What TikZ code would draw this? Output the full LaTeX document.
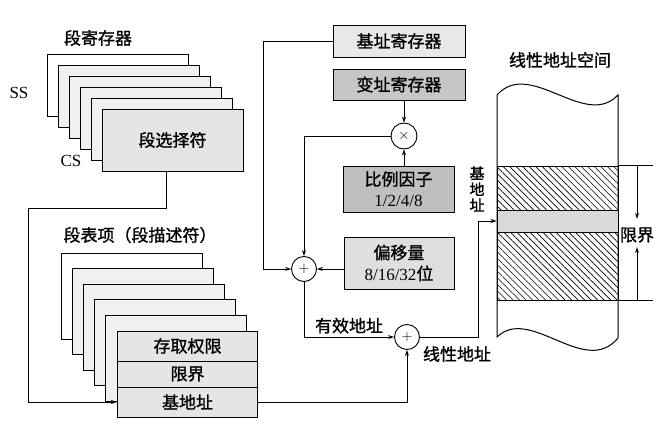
\documentclass[tikz,border=0pt]{standalone}
\usepackage{fontspec}
\setmainfont{Liberation Serif}
\newfontfamily\cjk{Noto Sans CJK SC}[FakeBold=1.2]
\usetikzlibrary{arrows.meta, patterns.meta}

\begin{document}
\begin{tikzpicture}[x=1pt, y=-1pt,
  every node/.style={font=\cjk\fontsize{17}{21}\selectfont},
  block/.style={rectangle, draw, line width=1pt, inner sep=0pt, align=center},
  regbox/.style={block, fill=gray!12, minimum width=141pt, minimum height=62pt},
  descbox/.style={block, fill=gray!12, minimum width=141pt, minimum height=86pt},
  field/.style={block, fill=gray!20, minimum width=140pt},
  addr/.style={block, minimum width=132pt, minimum height=32pt},
  op/.style={circle, draw, line width=0.9pt, inner sep=0pt, minimum size=25pt,
    fill=white, font=\fontsize{15}{15}\selectfont},
  hatch/.style={rectangle, draw, line width=0.9pt, minimum width=121pt,
    pattern={Lines[angle=-45, distance=4.6pt, line width=0.6pt]}},
  arrow/.style={-{Stealth[length=6pt, width=4pt]}, line width=0.9pt},
  num/.style={font=\rmfamily\fontsize{17}{21}\selectfont},
]
\useasboundingbox (0,0) rectangle (664,431);

% Segment registers
\node[regbox, fill=white] (sr0) at (117.5,85) {};
\node[regbox] (sr1) at (128.5,96) {};
\node[regbox] (sr2) at (139.5,107) {};
\node[regbox] (sr3) at (150.5,118) {};
\node[regbox] (sr4) at (161.5,129) {};
\node[regbox, fill=gray!20] (sel) at (172.5,140) {段选择符};
\node (srtitle) at (98,38) {段寄存器};
\node[num] (ss) at (19,93) {SS};
\node[num] (cs) at (71,161) {CS};

% Descriptor table entries
\node[descbox, fill=white] (sd0) at (131.5,296) {};
\node[descbox] (sd1) at (142.7,311.6) {};
\node[descbox] (sd2) at (153.9,327.2) {};
\node[descbox] (sd3) at (165.1,342.8) {};
\node[descbox] (sd4) at (176.3,358.4) {};
\node[field, minimum height=30pt] (acc) at (187.5,346) {存取权限};
\node[field, minimum height=26pt] (lim) at (187.5,374) {限界};
\node[field, minimum height=30pt] (base) at (187.5,402) {基地址};
\node (sdtitle) at (140,235) {段表项（段描述符）};

% Address registers
\node[addr, fill=gray!18] (basereg) at (399,41) {基址寄存器};
\node[addr, fill=gray!45, minimum height=31pt] (idxreg) at (399,84.5) {变址寄存器};
\node[block, fill=gray!50, minimum width=111pt, minimum height=46pt] (scale) at (398.5,189)
  {比例因子\\{\rmfamily 1/2/4/8}};
\node[block, fill=gray!25, minimum width=110pt, minimum height=52pt] (disp) at (399,263)
  {偏移量\\{\rmfamily 8/16/32}位};

% Operators
\node[op, minimum size=26pt] (mul) at (404,136) {$\times$};
\node[op] (add1) at (304,269) {$+$};
\node[op] (add2) at (407,337) {$+$};

% Linear address space
\draw[line width=1pt] (497,95) .. controls (530,58) and (585,130) .. (618,95)
  -- (618,338) .. controls (585,378) and (530,305) .. (497,337) -- cycle;
\node[hatch, minimum height=44pt] (upper) at (557.5,188) {};
\node[block, fill=gray!30, minimum width=121pt, minimum height=22pt] (band) at (557.5,221) {};
\node[hatch, minimum height=68pt] (lower) at (557.5,266) {};
\draw[line width=0.9pt] (upper.north east) -- ++(35,0);
\draw[line width=0.9pt] (lower.south east) -- ++(35,0);
\node (lstitle) at (560,60) {线性地址空间};
\node[align=center, font=\cjk\fontsize{15}{16}\selectfont] (bslbl) at (477,189) {基\\地\\址};
\node (limlbl) at (637,235) {限界};
\draw[arrow] (limlbl.north |- upper.north) -- ([yshift=5pt]limlbl.north);
\draw[arrow] (limlbl.south |- lower.south) -- ([yshift=-1pt]limlbl.south);

% Connectors
\draw[arrow] ([xshift=-6.5pt]sel.south) |- ++(-138,37) |- (base.west);
\draw[arrow] (base.east) -| (add2.south);
\draw[arrow] (basereg.west) -- ++(-69,0) |- (add1.west);
\draw[arrow] (idxreg.south -| mul) -- (mul.north);
\draw[arrow] (scale.north -| mul) -- (mul.south);
\draw[arrow] (mul.west) -| (add1.north);
\draw[arrow] (disp.west |- add1) -- (add1.east);
\draw[arrow] (add1.south) |- node[pos=0.75, above, inner sep=3pt] {有效地址} (add2.west);
\draw[arrow] (add2.east) -- ++(58,0) |- (band.west);
\node (linlbl) at (457,354) {线性地址};

\end{tikzpicture}
\end{document}
